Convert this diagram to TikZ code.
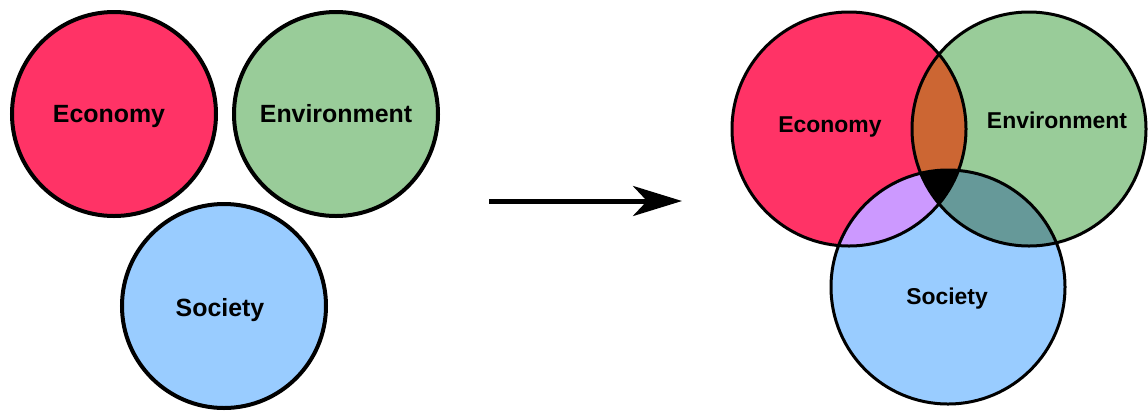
\documentclass[tikz,border=0pt]{standalone}
\usepackage{fontspec}
\setmainfont{Liberation Sans}
\usepackage{tikz}
\usetikzlibrary{arrows.meta}
\definecolor{econ}{HTML}{FF3366}
\definecolor{envi}{HTML}{99CC99}
\definecolor{soci}{HTML}{99CCFF}
\definecolor{econenvi}{HTML}{CC6633}
\definecolor{econsoci}{HTML}{CC99FF}
\definecolor{envisoci}{HTML}{669999}

\begin{document}
\begin{tikzpicture}[x=1bp,y=-1bp,
  ring/.style={circle,inner sep=0pt},
  tag/.style={anchor=base,font=\bfseries\fontsize{#1}{#1}\selectfont},
  tag/.default=25]
\useasboundingbox (0,0) rectangle (1148,412);
% three apart
\foreach \n/\c/\x/\y in {econA/econ/114/114, enviA/envi/336/114, sociA/soci/224/306}
  \node[ring,draw,line width=4bp,fill=\c,minimum size=204bp] (\n) at (\x,\y) {};
\node[tag] (econAtxt) at (109,122) {Economy};
\node[tag] (enviAtxt) at (336,122) {Environment};
\node[tag] (sociAtxt) at (220,316) {Society};
% arrow
\coordinate (arrowtail) at (489,201);
\coordinate (arrowtip) at (682,201);
\draw[line width=5bp,-{Stealth[length=49bp,width=30bp,inset=14bp]}] (arrowtail) -- (arrowtip);
% three overlapping
\foreach \n/\c/\x/\y in {econB/econ/849/129, enviB/envi/1029/129, sociB/soci/948/287}
  \node[ring,fill=\c,minimum size=234bp] (\n) at (\x,\y) {};
\begin{scope}
  \clip (enviB.center) circle[radius=117bp];
  \fill[envisoci] (sociB.center) circle[radius=117bp];
\end{scope}
\begin{scope}
  \clip (econB.center) circle[radius=117bp];
  \fill[econenvi] (enviB.center) circle[radius=117bp];
  \fill[econsoci] (sociB.center) circle[radius=117bp];
  \clip (enviB.center) circle[radius=117bp];
  \fill[black] (sociB.center) circle[radius=117bp];
\end{scope}
\foreach \n in {econB,enviB,sociB}
  \draw[line width=3bp] (\n.center) circle[radius=117bp];
\node[tag=23] (econBtxt) at (830,132) {Economy};
\node[tag=23] (enviBtxt) at (1057,128) {Environment};
\node[tag=23] (sociBtxt) at (947,304) {Society};
\end{tikzpicture}
\end{document}
